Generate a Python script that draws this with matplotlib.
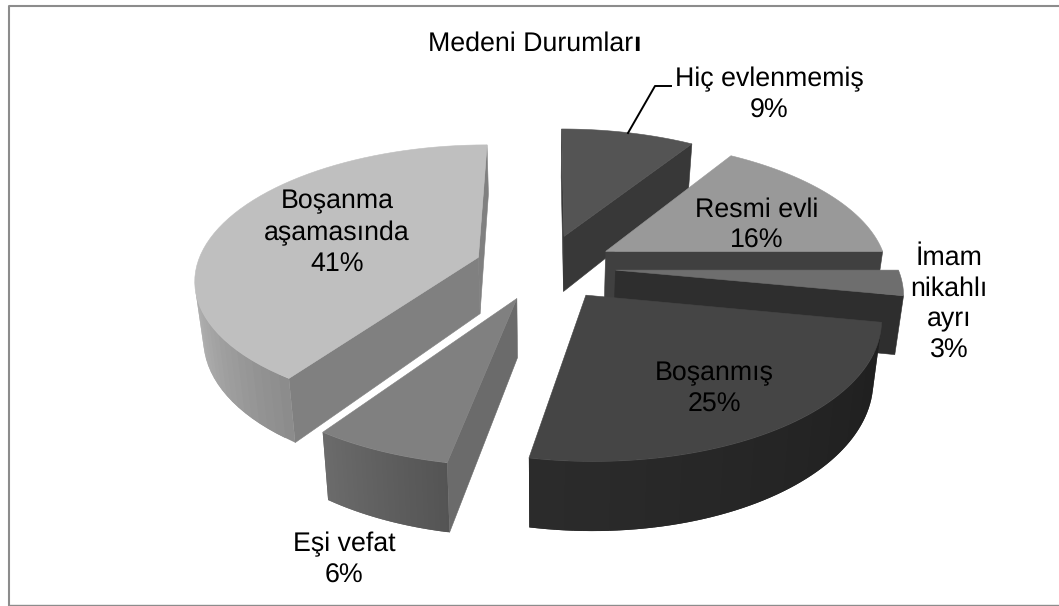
import numpy as np
import matplotlib
matplotlib.use('Agg')
import matplotlib.pyplot as plt

plt.rcParams['font.family'] = ['Liberation Sans', 'DejaVu Sans']
plt.rcParams['text.hinting'] = 'no_hinting'

# values, clockwise from 12 o'clock
categories = ['Hiç evlenmemiş', 'Resmi evli', 'İmam\nnikahlı\nayrı', 'Boşanmış', 'Eşi vefat', 'Boşanma\naşamasında']
shares = [9, 16, 3, 25, 6.6, 40.4]
percent_labels = ['9%', '16%', '3%', '25%', '6%', '41%']

# greys for each slice
top_grey = [0.33, 0.60, 0.43, 0.27, 0.50, 0.75]
wall_grey = [0.22, 0.25, 0.18, 0.12, 0.42, 0.50]
arc_start_grey = [0.22, 0.25, 0.20, 0.12, 0.33, 0.55]
arc_end_grey = [0.22, 0.25, 0.20, 0.17, 0.42, 0.70]

# centre of each label, in pixels of the picture
label_x = [769, 757, 949, 714, 344, 337]
label_y = [95, 225, 304, 389, 560, 233]

# fake 3d camera
cx, cy = 545, 267
rx, ry = 282, 132
persp = 0.15
bottom_shrink = 1.025
depth = 57
explode = 0.25
draw_order = [0, 1, 2, 3, 5, 4]


def project(px, py, bottom=False):
    w = 1 + persp * py
    if bottom:
        return cx + rx * px / w / bottom_shrink, cy - ry * py / w + depth / w
    return cx + rx * px / w, cy - ry * py / w


def quad(p0, p1):
    # wall hanging below the top edge p0-p1
    return [project(*p0), project(*p1), project(*p1, bottom=True), project(*p0, bottom=True)]


def faces_camera(pts):
    x, y = np.array(pts).T
    return np.sum(x * np.roll(y, -1) - np.roll(x, -1) * y) < 0


fig = plt.figure(figsize=(10.59, 6.06), dpi=100)
ax = fig.add_axes([0, 0, 1, 1])
ax.set_xlim(0, 1059)
ax.set_ylim(606, 0)
ax.axis('off')

ax.plot([1059, 8.5, 8.5], [6, 6, 605], color='#8c8c8c', lw=1.5)
ax.plot([8.5, 1059], [605, 605], color='#8c8c8c', lw=1)

edges = np.cumsum([0] + shares) / sum(shares) * 2 * np.pi

for i in draw_order:
    t0, t1 = edges[i], edges[i + 1]
    mid = (t0 + t1) / 2
    ox, oy = explode * np.sin(mid), explode * np.cos(mid)
    tt = np.linspace(t0, t1, 60)
    rim = [(ox + np.sin(t), oy + np.cos(t)) for t in tt]
    apex = (ox, oy)

    # straight cut walls
    for wall in (quad(apex, rim[0]), quad(rim[-1], apex)):
        if faces_camera(wall):
            g = wall_grey[i]
            ax.fill(*zip(*wall), color=(g, g, g), lw=0.4)

    # outer wall in thin strips, so the shade can run along it
    # each strip overlaps the next one to hide the seams
    keep = [k for k in range(len(rim) - 1) if faces_camera(quad(rim[k], rim[k + 1]))]
    for n, k in enumerate(keep):
        g = np.interp(n, [0, max(len(keep) - 1, 1)], [arc_start_grey[i], arc_end_grey[i]])
        s = quad(rim[k], rim[min(k + 2, keep[-1] + 1)])
        ax.fill(*zip(*s), color=(g, g, g), lw=0)

    top = [project(*apex)] + [project(*p) for p in rim]
    g = top_grey[i]
    ax.fill(*zip(*top), color=(g, g, g), lw=0.4)

for i in range(len(categories)):
    ax.text(label_x[i], label_y[i], categories[i] + '\n' + percent_labels[i], ha='center', va='center',
            fontsize=19.3, linespacing=1.3, color='black')

title = ax.text(428, 51, 'Medeni Durumlar', ha='left', va='baseline', fontsize=19.3, color='black')
ax.annotate('ı', xy=(1, 0), xycoords=title, ha='left', va='bottom', fontsize=19.3, fontweight='bold', color='black')
ax.plot([628, 655, 671], [133, 86, 86], color='black', lw=1.4)

fig.savefig('out.png', dpi=100)
